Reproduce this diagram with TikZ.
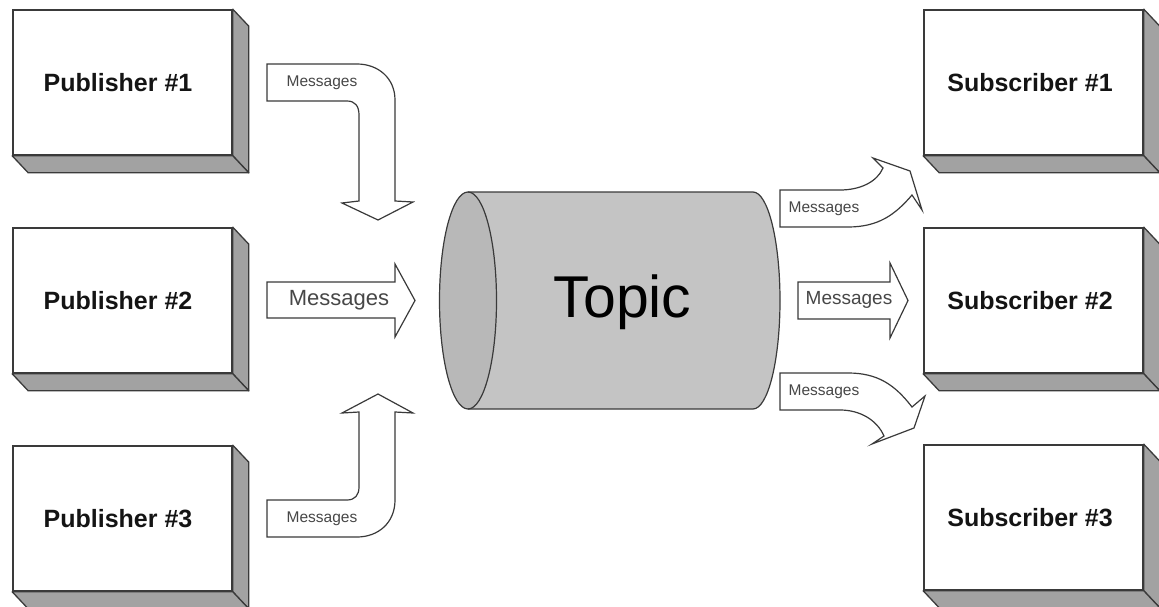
\documentclass[tikz,border=0pt]{standalone}
\usepackage{fontspec}
\setmainfont{Liberation Sans}
\definecolor{facegray}{HTML}{A2A2A2}
\definecolor{topicgray}{HTML}{C4C4C4}
\definecolor{capgray}{HTML}{B8B8B8}
\definecolor{linegray}{HTML}{3A3A3A}
\begin{document}
\begin{tikzpicture}[x=1pt,y=-1pt,
  box/.style={draw=linegray, line width=1.6pt, fill=white, minimum width=219pt,
    minimum height=145pt, inner sep=0pt, font=\fontsize{25}{30}\selectfont\bfseries, text=black!92},
  depthface/.style={fill=facegray, draw=linegray, line width=1.3pt, line join=round},
  blockarrow/.style={draw=linegray, line width=1.2pt, fill=white, line join=miter},
  smalllbl/.style={font=\fontsize{15.5}{18}\selectfont, text=black!72, inner sep=0pt},
  biglbl/.style={font=\fontsize{22}{26}\selectfont, text=black!72, inner sep=0pt},
  midlbl/.style={font=\fontsize{19}{22}\selectfont, text=black!72, inner sep=0pt}
]
\useasboundingbox (0,0) rectangle (1159,607);

% boxes
\node[box] (p1) at (122.5,82.5) {Publisher \#1\kern9pt};
\node[box] (p2) at (122.5,300.5) {Publisher \#2\kern9pt};
\node[box] (p3) at (122.5,518.5) {Publisher \#3\kern9pt};
\node[box] (s1) at (1033.5,82.5) {Subscriber \#1\kern7pt};
\node[box] (s2) at (1033.5,300.5) {Subscriber \#2\kern7pt};
\node[box] (s3) at (1033.5,517.5) {Subscriber \#3\kern7pt};
\foreach \n in {p1,p2,p3,s1,s2,s3}{
  \filldraw[depthface] (\n.north east) -- ([shift={(16,17)}]\n.north east)
     -- ([shift={(16,17)}]\n.south east) -- (\n.south east) -- cycle;
  \filldraw[depthface] (\n.south west) -- (\n.south east)
     -- ([shift={(16,17)}]\n.south east) -- ([shift={(16,17)}]\n.south west) -- cycle;
}

% topic cylinder
\fill[topicgray] (468,192) -- (753,192) arc[start angle=-90, end angle=90, x radius=27, y radius=108.5]
   -- (468,409) arc[start angle=90, end angle=270, x radius=28.5, y radius=108.5] -- cycle;
\filldraw[fill=capgray, draw=linegray, line width=1.2pt] (468,300.5) ellipse[x radius=28.5, y radius=108.5];
\draw[draw=linegray, line width=1.2pt, line join=round] (468,192) -- (753,192)
   arc[start angle=-90, end angle=90, x radius=27, y radius=108.5] -- (468,409);
\node[font=\fontsize{59}{64}\selectfont, text=black, inner sep=0pt, anchor=base] (topic) at (622.5,317) {Topic};

% left arrows
\filldraw[blockarrow] (267,64) -- (357,64) .. controls (378,64) and (395,78) .. (395,100)
   -- (395,201) -- (413,202) -- (378,220) -- (342,203) -- (359,201) -- (359,115)
   .. controls (359,106) and (355,101) .. (347,101) -- (267,101) -- cycle;
\node[smalllbl] (m1) at (322,82.5) {Messages};

\filldraw[blockarrow] (267,282) -- (395,282) -- (395,264) -- (415,300.5) -- (395,337)
   -- (395,318) -- (267,318) -- cycle;
\node[biglbl] (m2) at (339,300) {Messages};

\filldraw[blockarrow] (267,537) -- (357,537) .. controls (378,537) and (395,523) .. (395,500)
   -- (395,412) -- (413,413) -- (378,394) -- (342,413) -- (359,412) -- (359,487)
   .. controls (359,495) and (355,500) .. (347,500) -- (267,500) -- cycle;
\node[smalllbl] (m3) at (322,518.5) {Messages};

% right arrows
\filldraw[blockarrow] (780,190) -- (840,190) .. controls (860,190) and (877,182) .. (883,168)
   -- (873,158) -- (910,171) -- (922,210) -- (912,195)
   .. controls (895,215) and (878,227) .. (848,227) -- (780,227) -- cycle;
\node[smalllbl] (m4) at (824,208.5) {Messages};

\filldraw[blockarrow] (798,282) -- (890,282) -- (890,263) -- (908,300.5) -- (890,338)
   -- (890,319) -- (798,319) -- cycle;
\node[midlbl] (m5) at (849,300) {Messages};

\filldraw[blockarrow] (780,410) -- (840,410) .. controls (860,410) and (877,420) .. (884,436)
   -- (872,444) -- (914,428) -- (925,396) -- (912,407)
   .. controls (895,385) and (878,373) .. (848,373) -- (780,373) -- cycle;
\node[smalllbl] (m6) at (824,391.5) {Messages};
\end{tikzpicture}
\end{document}
